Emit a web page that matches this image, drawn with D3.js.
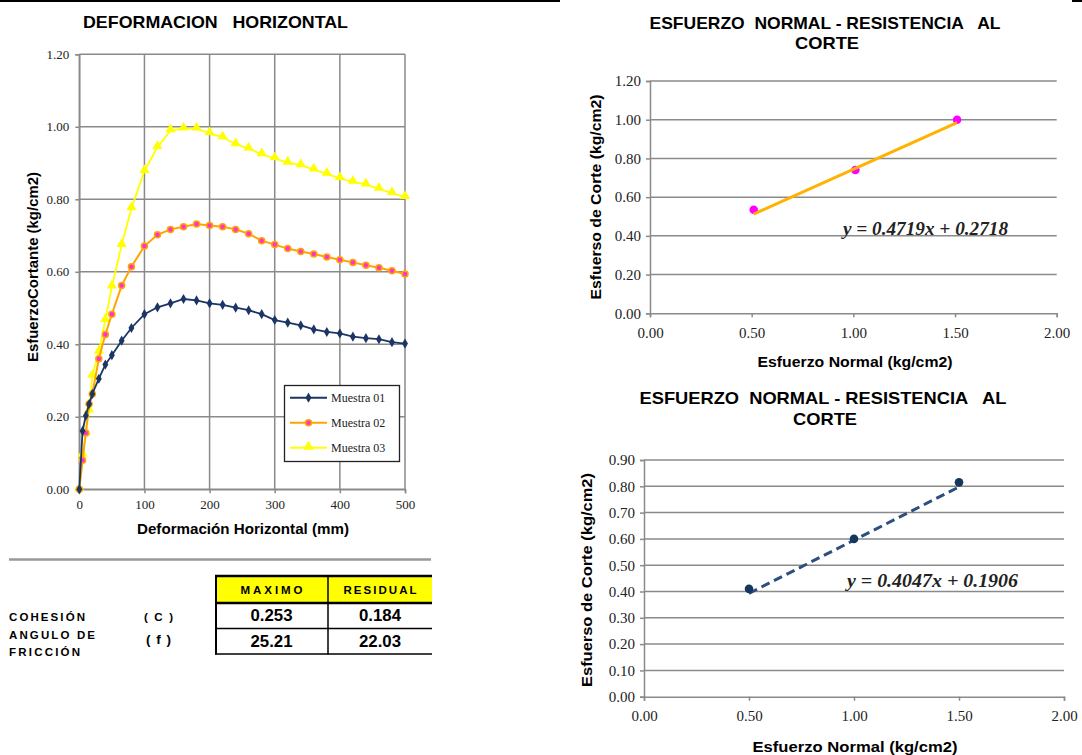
<!DOCTYPE html>
<html><head><meta charset="utf-8">
<script src="https://cdn.jsdelivr.net/npm/d3@7"></script>
<style>body{margin:0;background:#fff}svg{display:block}</style>
</head><body>
<svg id="c" width="1082" height="755"></svg>
<script>
// ---------- DATA ----------
const deformX = [0,5,10,15,20,30,40,50,65,80,100,120,140,160,180,200,220,240,260,280,300,320,340,360,380,400,420,440,460,480,500];
const muestra01 = [0,0.161,0.203,0.235,0.263,0.305,0.344,0.370,0.410,0.445,0.483,0.502,0.513,0.525,0.521,0.513,0.509,0.501,0.494,0.483,0.467,0.460,0.452,0.441,0.434,0.430,0.421,0.417,0.414,0.406,0.402];
const muestra02 = [0,0.080,0.155,0.235,0.263,0.360,0.427,0.483,0.562,0.614,0.671,0.702,0.717,0.724,0.732,0.728,0.724,0.717,0.705,0.686,0.675,0.664,0.656,0.649,0.641,0.633,0.626,0.618,0.611,0.603,0.594];
const muestra03 = [0,0.095,0.155,0.217,0.313,0.379,0.467,0.559,0.674,0.775,0.878,0.944,0.990,0.995,0.995,0.982,0.971,0.952,0.940,0.924,0.913,0.901,0.894,0.882,0.870,0.858,0.848,0.841,0.829,0.817,0.806];
const seriesNames = ["Muestra 01","Muestra 02","Muestra 03"];
const leftYTicks = [0,0.2,0.4,0.6,0.8,1.0,1.2];
const leftXTicks = [0,100,200,300,400,500];

const tableHeaders = ["MAXIMO","RESIDUAL"];
const tableRowLabels = ["COHESIÓN","ANGULO DE|FRICCIÓN"];
const tableRowSymbols = ["( C )","( f )"];
const tableMaximo = ["0.253","25.21"];
const tableResidual = ["0.184","22.03"];

const normalTop = [0.51,1.01,1.51];
const shearTop = [0.535,0.740,1.000];
const trendTop = [0.4719,0.2718];
const topYTicks = [0,0.2,0.4,0.6,0.8,1.0,1.2];

const normalBot = [0.50,1.00,1.50];
const shearBot = [0.410,0.600,0.815];
const trendBot = [0.4047,0.1906];
const botYTicks = [0,0.1,0.2,0.3,0.4,0.5,0.6,0.7,0.8,0.9];
const rightXTicks = [0,0.5,1.0,1.5,2.0];

// ---------- DRAW ----------
const svg = d3.select("#c");
const f2 = d3.format(".2f");
const SANS = "'Liberation Sans', Arial, sans-serif";
const SERIF = "'Liberation Serif', 'Times New Roman', serif";
const GRID = "#8a8a8a";

function txt(g, s, x, y, o){
  const t = g.append("text").attr("x",x).attr("y",y).attr("font-family",o.family||SANS)
    .attr("font-size",o.size).attr("xml:space","preserve").text(s);
  if(o.bold) t.attr("font-weight","bold");
  if(o.italic) t.attr("font-style","italic");
  if(o.anchor) t.attr("text-anchor",o.anchor);
  if(o.len) t.attr("textLength",o.len).attr("lengthAdjust",o.adj||"spacingAndGlyphs");
  if(o.ls) t.attr("letter-spacing",o.ls);
  if(o.fill) t.attr("fill",o.fill);
  if(o.rot) t.attr("transform",`rotate(-90,${x},${y})`);
  return t;
}

// top border line
svg.append("line").attr("x1",0).attr("x2",560).attr("y1",1).attr("y2",1).attr("stroke","#000").attr("stroke-width",2);
svg.append("line").attr("x1",1072).attr("x2",1082).attr("y1",1).attr("y2",1).attr("stroke","#000").attr("stroke-width",2);

// ===== LEFT CHART =====
const lx = d3.scaleLinear().domain([0,500]).range([79.3,405]);
const ly = d3.scaleLinear().domain([0,1.2]).range([489.3,54.3]);
const L = svg.append("g");

txt(L,"DEFORMACION   HORIZONTAL",83,28,{bold:true,size:17,len:265});

// grid
L.append("g").selectAll("line").data(leftYTicks).join("line")
 .attr("x1",lx(0)).attr("x2",lx(500)).attr("y1",d=>ly(d)).attr("y2",d=>ly(d))
 .attr("stroke",GRID).attr("stroke-width",1.5);
L.append("g").selectAll("line").data(leftXTicks).join("line")
 .attr("y1",ly(0)).attr("y2",ly(1.2)).attr("x1",d=>lx(d)).attr("x2",d=>lx(d))
 .attr("stroke",GRID).attr("stroke-width",1.5);

const lyAxis = L.append("g").attr("transform",`translate(${lx(0)},0)`)
 .call(d3.axisLeft(ly).tickValues(leftYTicks).tickFormat(f2).tickSize(4).tickPadding(6));
const lxAxis = L.append("g").attr("transform",`translate(0,${ly(0)})`)
 .call(d3.axisBottom(lx).tickValues(leftXTicks).tickSize(4).tickPadding(6));
[lyAxis,lxAxis].forEach(a=>{
  a.select(".domain").attr("stroke",GRID).attr("stroke-width",1.5);
  a.selectAll(".tick line").attr("stroke",GRID).attr("stroke-width",1.5);
  a.selectAll("text").attr("font-family",SERIF).attr("font-size",13).attr("fill","#222");
});

txt(L,"EsfuerzoCortante (kg/cm2)",38,267,{bold:true,size:15,anchor:"middle",len:190,rot:true});
txt(L,"Deformación Horizontal (mm)",243,534,{bold:true,size:14.5,anchor:"middle",len:212});

const seriesData = [muestra01,muestra02,muestra03];
const seriesColor = ["#1b3565","#ffa500","#ffff00"];
const lineGen = d3.line().x((d,i)=>lx(deformX[i])).y(d=>ly(d));
const diamond = d3.symbol().type(d3.symbolDiamond).size(30);
const tri = d3.symbol().type(d3.symbolTriangle).size(45);

function drawMarker(g, k, x, y){
  if(k===0){ g.append("path").attr("d",diamond).attr("transform",`translate(${x},${y})`).attr("fill","#1b3565"); }
  else if(k===1){ g.append("circle").attr("cx",x).attr("cy",y).attr("r",3).attr("fill","#ff33cc").attr("stroke","#ffa500").attr("stroke-width",1.5); }
  else { g.append("path").attr("d",tri).attr("transform",`translate(${x},${y-1})`).attr("fill","#ffff00"); }
}
[2,1,0].forEach(k=>{
  const g = L.append("g");
  g.append("path").datum(seriesData[k]).attr("d",lineGen).attr("fill","none")
   .attr("stroke",seriesColor[k]).attr("stroke-width",k===1?2:1.8);
  seriesData[k].forEach((v,i)=>drawMarker(g,k,lx(deformX[i]),ly(v)));
});

// legend
const lg = L.append("g");
lg.append("rect").attr("x",284.5).attr("y",385.5).attr("width",115).attr("height",76)
 .attr("fill","#fff").attr("stroke","#222").attr("stroke-width",1.3);
seriesNames.forEach((n,k)=>{
  const y = 397.7 + k*25;
  lg.append("line").attr("x1",290).attr("x2",327).attr("y1",y).attr("y2",y).attr("stroke",seriesColor[k]).attr("stroke-width",2);
  drawMarker(lg,k,308.5,y);
  txt(lg,n,331,y+4,{family:SERIF,size:12,fill:"#222"});
});

// separator
svg.append("line").attr("x1",9).attr("x2",431).attr("y1",559.5).attr("y2",559.5).attr("stroke","#999").attr("stroke-width",2.5);

// ===== TABLE =====
const T = svg.append("g");
const colX = [215,328,432];
T.append("rect").attr("x",215).attr("y",576).attr("width",217).attr("height",27).attr("fill","#ffff00");
T.append("line").attr("x1",215).attr("x2",432).attr("y1",576).attr("y2",576).attr("stroke","#000").attr("stroke-width",2.5);
T.append("line").attr("x1",215).attr("x2",432).attr("y1",603).attr("y2",603).attr("stroke","#000").attr("stroke-width",2.5);
T.append("line").attr("x1",215).attr("x2",432).attr("y1",628.5).attr("y2",628.5).attr("stroke","#000").attr("stroke-width",1.5);
T.append("line").attr("x1",215).attr("x2",432).attr("y1",654).attr("y2",654).attr("stroke","#000").attr("stroke-width",1.5);
T.append("line").attr("x1",216).attr("x2",216).attr("y1",575).attr("y2",654.5).attr("stroke","#000").attr("stroke-width",2);
T.append("line").attr("x1",328).attr("x2",328).attr("y1",575).attr("y2",654.5).attr("stroke","#000").attr("stroke-width",1.5);
const hdrLen = [62,73];
tableHeaders.forEach((h,i)=>{
  txt(T,h,(colX[i]+colX[i+1])/2,594,{bold:true,size:11.5,anchor:"middle",len:hdrLen[i],adj:"spacing"});
});
[tableMaximo,tableResidual].forEach((col,i)=>{
  col.forEach((v,r)=>{
    txt(T,v,(colX[i]+colX[i+1])/2,[621,646.5][r],{bold:true,size:16,anchor:"middle",len:42});
  });
});
const rowLabLen = [[76],[86,71]];
tableRowLabels.forEach((lab,r)=>{
  lab.split("|").forEach((ln,j)=>{
    txt(T,ln,9,[621,639][r]+j*17,{bold:true,size:11.5,len:rowLabLen[r][j],adj:"spacing"});
  });
  txt(T,tableRowSymbols[r],158.5,[621,644][r],{bold:true,size:r===0?11.5:13.5,anchor:"middle",len:r===0?29:25,adj:"spacing"});
});

// ===== RIGHT CHARTS =====
function rightChart(opts){
  const {xr, yr, ymax, yticks, nx, ny, trend, title1, title2, tx, ty1, ty2, t1len, eqX, eqY, eqLen, ylabX, ylabY, ylabLen, xlabY, xlabLen, kind} = opts;
  const x = d3.scaleLinear().domain([0,2]).range(xr);
  const y = d3.scaleLinear().domain([0,ymax]).range(yr);
  const g = svg.append("g");
  txt(g,title1,tx,ty1,{bold:true,size:17,anchor:"middle",len:t1len});
  txt(g,title2,tx+2,ty2,{bold:true,size:17,anchor:"middle",len:64});
  g.append("g").selectAll("line").data(yticks.slice(1)).join("line")
   .attr("x1",x(0)).attr("x2",x(2)).attr("y1",d=>y(d)).attr("y2",d=>y(d)).attr("stroke",GRID).attr("stroke-width",1.5);
  const ya = g.append("g").attr("transform",`translate(${x(0)},0)`)
   .call(d3.axisLeft(y).tickValues(yticks).tickFormat(f2).tickSize(4).tickPadding(5));
  const xa = g.append("g").attr("transform",`translate(0,${y(0)})`)
   .call(d3.axisBottom(x).tickValues(rightXTicks).tickFormat(f2).tickSize(4).tickPadding(10));
  [ya,xa].forEach(a=>{
    a.select(".domain").attr("stroke",GRID).attr("stroke-width",1.5);
    a.selectAll(".tick line").attr("stroke",GRID).attr("stroke-width",1.5);
    a.selectAll("text").attr("font-family",SERIF).attr("font-size",15).attr("fill","#222");
  });
  txt(g,"Esfuerso de Corte (kg/cm2)",ylabX,ylabY,{bold:true,size:15,anchor:"middle",len:ylabLen,rot:true});
  txt(g,"Esfuerzo Normal (kg/cm2)",855,xlabY,{bold:true,size:15,anchor:"middle",len:xlabLen});
  const x0 = d3.min(nx), x1 = d3.max(nx);
  if(kind==="top"){
    nx.forEach((v,i)=>g.append("circle").attr("cx",x(v)).attr("cy",y(ny[i])).attr("r",4.3).attr("fill","#ff00ff"));
    g.append("line").attr("x1",x(x0)).attr("x2",x(x1)).attr("y1",y(trend[0]*x0+trend[1])).attr("y2",y(trend[0]*x1+trend[1]))
     .attr("stroke","#ffb300").attr("stroke-width",3);
  } else {
    g.append("line").attr("x1",x(x0)).attr("x2",x(x1)).attr("y1",y(trend[0]*x0+trend[1])).attr("y2",y(trend[0]*x1+trend[1]))
     .attr("stroke","#2d4f80").attr("stroke-width",3).attr("stroke-dasharray","9,5");
    nx.forEach((v,i)=>g.append("circle").attr("cx",x(v)).attr("cy",y(ny[i])).attr("r",4.3).attr("fill","#17365d"));
  }
  txt(g,`y = ${trend[0]}x + ${trend[1]}`,eqX,eqY,{family:SERIF,italic:true,bold:true,size:19,len:eqLen,fill:"#222"});
}

rightChart({xr:[650,1056.7], yr:[313.3,81], ymax:1.2, yticks:topYTicks, nx:normalTop, ny:shearTop, trend:trendTop,
  title1:"ESFUERZO  NORMAL - RESISTENCIA   AL", title2:"CORTE", tx:825, ty1:29, ty2:49, t1len:351,
  eqX:843, eqY:235, eqLen:165, ylabX:601, ylabY:197, ylabLen:205, xlabY:367, xlabLen:195, kind:"top"});
rightChart({xr:[644,1064], yr:[696.7,460], ymax:0.9, yticks:botYTicks, nx:normalBot, ny:shearBot, trend:trendBot,
  title1:"ESFUERZO  NORMAL - RESISTENCIA   AL", title2:"CORTE", tx:823, ty1:404, ty2:425, t1len:367,
  eqX:847, eqY:587, eqLen:171, ylabX:592, ylabY:580, ylabLen:214, xlabY:752, xlabLen:205, kind:"bot"});
</script>
</body></html>
